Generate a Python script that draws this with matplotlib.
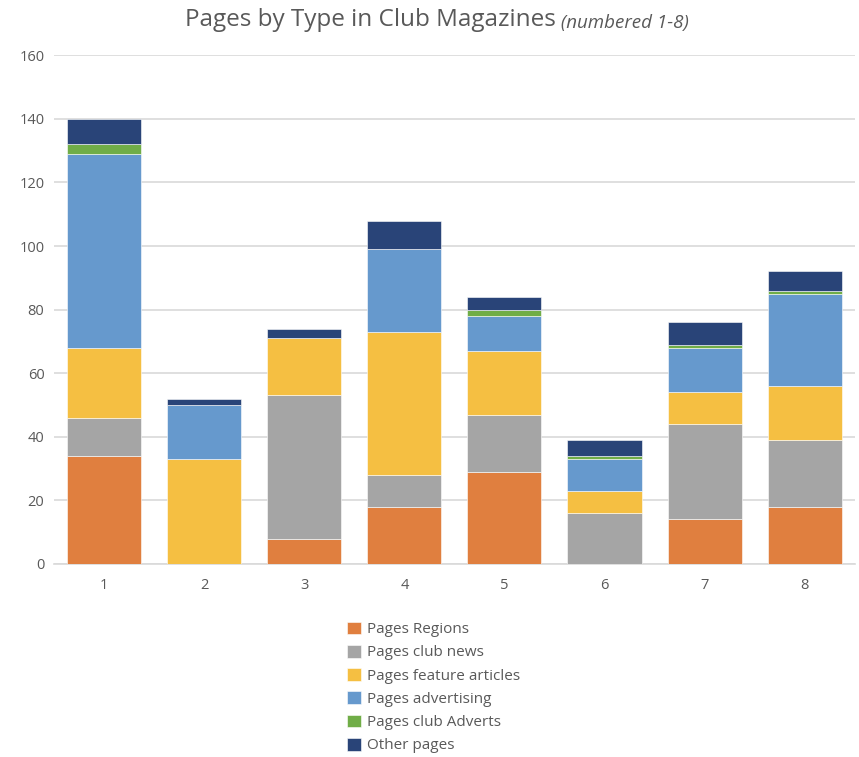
import numpy as np
import matplotlib.pyplot as plt

magazines = ["1", "2", "3", "4", "5", "6", "7", "8"]
regions = [34, 0, 8, 18, 29, 0, 14, 18]
club_news = [12, 0, 45, 10, 18, 16, 30, 21]
features = [22, 33, 18, 45, 20, 7, 10, 17]
advertising = [61, 17, 0, 26, 11, 10, 14, 29]
club_adverts = [3, 0, 0, 0, 2, 1, 1, 1]
other = [8, 2, 3, 9, 4, 5, 7, 6]

series = [
    ("Pages Regions", regions, "#E07F3F"),
    ("Pages club news", club_news, "#A5A5A5"),
    ("Pages feature articles", features, "#F5BF42"),
    ("Pages advertising", advertising, "#6699CD"),
    ("Pages club Adverts", club_adverts, "#70AD47"),
    ("Other pages", other, "#294478"),
]

plt.rcParams['font.family'] = ['Open Sans', 'DejaVu Sans']
text_col = "#595959"

fig = plt.figure(figsize=(8.59, 7.57), dpi=100)
ax = fig.add_axes([0.063, 0.255, 0.932, 0.672])

x = np.arange(1, len(magazines) + 1)
bottom = np.zeros(len(magazines))
for name, vals, col in series:
    vals = np.array(vals, dtype=float)
    ax.bar(x, vals, 0.74, bottom=bottom, color=col, label=name,
           edgecolor="white", linewidth=0.4, zorder=3)
    bottom += vals

ax.set_xlim(0.5, 8.5)
ax.set_ylim(0, 160)
ax.set_yticks(range(0, 161, 20))
ax.set_xticks(x)
ax.set_xticklabels(magazines)
ax.grid(axis="y", color="#D9D9D9", linewidth=1.2, zorder=0)
for s in ["top", "right", "left"]:
    ax.spines[s].set_visible(False)
ax.spines["bottom"].set_color("#D9D9D9")
ax.spines["bottom"].set_linewidth(1.2)
ax.tick_params(axis="both", length=0, colors=text_col, labelsize=10.5)
ax.tick_params(axis="y", pad=7)
ax.tick_params(axis="x", pad=10)

# title in two parts
t1 = fig.text(0.5, 0.973, "Pages by Type in Club Magazines", fontsize=17.5,
              color=text_col, ha="left", va="center")
t2 = fig.text(0.5, 0.970, " (numbered 1-8)", fontsize=13.5, style="italic",
              color=text_col, ha="left", va="center")
r = fig.canvas.get_renderer()
w1 = t1.get_window_extent(r).width / fig.bbox.width
w2 = t2.get_window_extent(r).width / fig.bbox.width
start = 0.509 - (w1 + w2) / 2
t1.set_x(start)
t2.set_x(start + w1)

leg = fig.legend(loc="upper left", bbox_to_anchor=(0.388, 0.197), frameon=False,
                 fontsize=11, handlelength=0.9, handleheight=0.9,
                 handletextpad=0.4, labelspacing=0.5)
for t in leg.get_texts():
    t.set_color(text_col)

fig.savefig("out.png", dpi=100)
